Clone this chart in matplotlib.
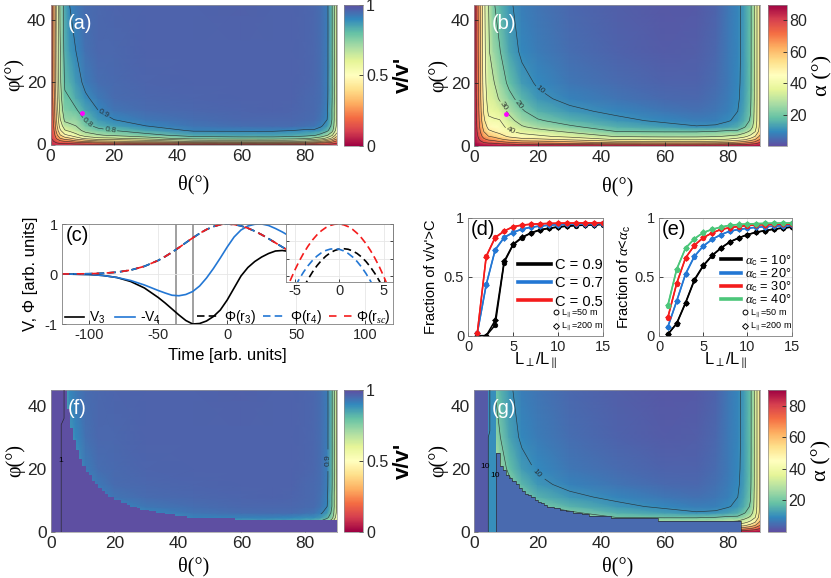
import numpy as np
import matplotlib.pyplot as plt
from matplotlib import colors, cm
from matplotlib.lines import Line2D

plt.rcParams['font.family'] = ['Liberation Sans', 'DejaVu Sans']
plt.rcParams['mathtext.fontset'] = 'custom'
plt.rcParams['mathtext.rm'] = 'Liberation Sans'
plt.rcParams['mathtext.it'] = 'Liberation Serif:italic'
plt.rcParams['mathtext.bf'] = 'Liberation Sans:bold'
plt.rcParams['axes.unicode_minus'] = False
SERIF = ['Liberation Serif', 'DejaVu Serif']

# ---------------- maps (a), (b), (f), (g) ----------------
theta_nodes = [0, 1, 2, 3, 4.5, 6, 8, 11, 15, 20, 30, 45, 60, 70, 76, 80, 83, 85, 87, 88.5, 90]
phi_nodes = [0, 0.5, 1, 2, 3, 4.5, 6, 8, 11, 15, 20, 30, 45]

# alpha (deg), one list per theta node, values along phi_nodes
alpha_cols = [
    [89, 89, 88, 88, 88, 88, 88, 88, 88, 88, 88, 88, 88],
    [89, 88, 86, 83, 81, 79, 78, 77, 76, 75, 74, 73.5, 73],
    [89, 86, 83, 77, 73, 69, 66, 64, 62, 60.5, 59.5, 58.5, 58],
    [89, 85, 80, 72, 66, 60, 56, 52, 49, 47, 45.5, 44, 43],
    [89, 84, 78, 68, 60, 52, 47, 42, 38, 35, 33, 31, 30],
    [89, 84, 77, 66, 58, 50, 45.5, 41, 37.5, 34, 31, 25.5, 21],
    [89, 82, 74, 62, 54, 47, 43.5, 40.5, 35.5, 29, 25, 20.5, 16.5],
    [89, 80, 71, 57, 48, 41, 37, 33, 28, 22.5, 18, 13.5, 11],
    [89, 78, 68, 53, 44, 37, 31, 26, 21, 16.5, 12.3, 8.8, 7.5],
    [89, 77, 67, 52, 42, 34, 27, 21, 15.5, 11.5, 9.2, 7.2, 6],
    [89, 75, 64, 48, 37, 28.5, 21.5, 16, 11.5, 8.3, 6.5, 5, 4],
    [89, 73, 58, 39, 29, 20, 15.3, 11.6, 8.5, 6.3, 4.8, 3.3, 2.5],
    [89, 72, 57, 38, 28, 19.5, 12.5, 8.8, 6.5, 4.5, 3.3, 2.2, 1.5],
    [89, 72, 57, 38, 28, 19.5, 10.5, 7.5, 5.5, 4.2, 3.3, 2.5, 2.0],
    [89, 73, 58, 39, 29, 20.5, 11, 8, 6.5, 5.5, 4.8, 4.0, 3.5],
    [89, 74, 60, 41, 31, 22, 13, 9.5, 8, 7.3, 7, 6.7, 6.5],
    [89, 76, 63, 45, 33, 22, 15, 11.5, 10, 9.2, 8.8, 8.5, 8.5],
    [89, 78, 66, 48, 37, 26, 19, 15, 13.5, 12.5, 12.2, 12, 12],
    [89, 80, 70, 54, 43, 32, 25, 21, 19.5, 18.5, 18.2, 18, 18],
    [89, 82, 74, 60, 50, 40, 36, 34, 33.5, 33, 33, 33, 33],
    [89, 85, 80, 70, 62, 55, 53, 52, 52, 52, 52, 52, 52],
]

# v/v', same grid
ratio_cols = [
    [0.08, 0.08, 0.09, 0.09, 0.09, 0.09, 0.09, 0.09, 0.09, 0.09, 0.09, 0.09, 0.09],
    [0.08, 0.09, 0.10, 0.13, 0.15, 0.18, 0.20, 0.22, 0.23, 0.25, 0.27, 0.275, 0.28],
    [0.08, 0.10, 0.13, 0.22, 0.28, 0.35, 0.39, 0.42, 0.45, 0.475, 0.49, 0.50, 0.51],
    [0.08, 0.11, 0.17, 0.30, 0.39, 0.48, 0.54, 0.59, 0.63, 0.66, 0.68, 0.69, 0.71],
    [0.08, 0.12, 0.20, 0.36, 0.48, 0.59, 0.66, 0.72, 0.76, 0.79, 0.81, 0.83, 0.84],
    [0.08, 0.12, 0.22, 0.39, 0.51, 0.62, 0.68, 0.73, 0.77, 0.80, 0.83, 0.87, 0.90],
    [0.08, 0.14, 0.27, 0.45, 0.57, 0.66, 0.70, 0.73, 0.79, 0.84, 0.87, 0.90, 0.925],
    [0.08, 0.17, 0.31, 0.53, 0.65, 0.73, 0.77, 0.81, 0.85, 0.89, 0.918, 0.938, 0.947],
    [0.08, 0.20, 0.36, 0.58, 0.69, 0.77, 0.83, 0.87, 0.90, 0.925, 0.943, 0.954, 0.957],
    [0.08, 0.22, 0.38, 0.59, 0.72, 0.80, 0.86, 0.90, 0.93, 0.946, 0.953, 0.957, 0.960],
    [0.08, 0.25, 0.42, 0.65, 0.77, 0.85, 0.90, 0.928, 0.946, 0.955, 0.959, 0.961, 0.963],
    [0.08, 0.28, 0.51, 0.75, 0.84, 0.91, 0.931, 0.945, 0.954, 0.959, 0.962, 0.963, 0.964],
    [0.08, 0.30, 0.53, 0.76, 0.85, 0.91, 0.942, 0.954, 0.959, 0.962, 0.963, 0.964, 0.965],
    [0.08, 0.30, 0.53, 0.76, 0.85, 0.91, 0.949, 0.957, 0.961, 0.962, 0.963, 0.964, 0.964],
    [0.08, 0.28, 0.51, 0.75, 0.84, 0.90, 0.947, 0.956, 0.959, 0.961, 0.962, 0.963, 0.963],
    [0.08, 0.27, 0.48, 0.73, 0.83, 0.89, 0.94, 0.952, 0.956, 0.957, 0.958, 0.958, 0.959],
    [0.08, 0.23, 0.44, 0.68, 0.81, 0.89, 0.932, 0.946, 0.950, 0.953, 0.954, 0.954, 0.954],
    [0.08, 0.20, 0.39, 0.65, 0.77, 0.87, 0.91, 0.932, 0.938, 0.942, 0.943, 0.944, 0.944],
    [0.08, 0.17, 0.33, 0.57, 0.71, 0.82, 0.87, 0.90, 0.91, 0.915, 0.917, 0.918, 0.918],
    [0.08, 0.14, 0.27, 0.48, 0.62, 0.74, 0.78, 0.80, 0.80, 0.81, 0.81, 0.81, 0.81],
    [0.08, 0.11, 0.17, 0.33, 0.45, 0.55, 0.58, 0.59, 0.59, 0.59, 0.59, 0.59, 0.59],
]

probe_theta = [10]
probe_phi = [10]

# (f): region where v/v' = 1 (staircase, left edges of columns + top phi)
f_stair_theta = [0, 5, 6, 7, 8, 9, 10, 11, 12, 13, 14, 15, 16, 17, 18, 20, 22, 24, 25, 27,
                 28, 31, 33, 36, 39, 43, 58, 87]
f_stair_phi = [45, 39, 33, 29, 26, 23, 21, 19, 18, 16, 15, 14, 13, 12, 11, 10, 9, 8.5, 8, 7.5,
               7, 6.5, 6, 5.5, 5, 4.3, 3.7, 3.7]
f_one_theta = [3.3, 3.3, 4.2, 4.2]
f_one_phi = [0, 34, 36, 45]

# (g): low-alpha regions
g_strip_theta = [0, 4.4]
g_strip_alpha = 2
g_column_theta = [4.4, 6.8]
g_column_alpha = 10
g_stair_theta = [6.8, 8, 9, 10, 11, 12, 13, 14, 15, 16, 17, 18, 19, 20, 21, 22, 23, 25, 27, 29,
                 31, 34, 36, 43, 58, 84]
g_stair_phi = [25, 21, 19.5, 18, 17, 16, 15, 14, 13, 12, 11.5, 11, 10, 9.5, 9, 8.5, 8, 7.5, 7, 6.5,
               6, 5.5, 5, 4.5, 3.5, 3.5]
g_stair_alpha = 4.5
g_left_theta = [4.4, 4.4, 4.9, 4.9]
g_left_phi = [0, 30, 32, 45]

# ---------------- (c) ----------------
t_main = [-120, -110, -100, -90, -80, -70, -60, -50, -45, -40, -35, -30, -25, -20, -15, -10,
          -5, 0, 5, 10, 15, 20, 25, 30, 35, 40, 45]
v3 = [0, -0.005, -0.01, -0.03, -0.07, -0.15, -0.28, -0.47, -0.58, -0.70, -0.82, -0.93, -1.0,
      -0.99, -0.94, -0.85, -0.72, -0.52, -0.28, -0.04, 0.13, 0.25, 0.34, 0.41, 0.46, 0.47, 0.45]
neg_v4 = [0, -0.005, -0.01, -0.03, -0.07, -0.13, -0.22, -0.33, -0.38, -0.425, -0.435, -0.41,
          -0.35, -0.24, -0.08, 0.11, 0.32, 0.54, 0.74, 0.88, 0.96, 0.995, 1.0, 0.97, 0.91, 0.84, 0.76]
phi_pot = [0.0006, 0.002, 0.0055, 0.015, 0.036, 0.078, 0.154, 0.272, 0.349, 0.435, 0.528, 0.626,
           0.722, 0.812, 0.89, 0.949, 0.987, 1.0, 0.99, 0.962, 0.917, 0.857, 0.786, 0.707, 0.623,
           0.539, 0.458]
event_times = [-37, -25]

t_inset = [-6, -5.5, -5, -4.5, -4, -3.5, -3, -2.5, -2, -1.5, -1, -0.5, 0, 0.5, 1, 1.5, 2, 2.5,
           3, 3.5, 4, 4.5, 5, 5.5, 6]
phi_rsc_in = [-0.174, 0.018, 0.193, 0.351, 0.492, 0.615, 0.722, 0.811, 0.883, 0.938, 0.975, 0.996,
              0.999, 0.986, 0.955, 0.907, 0.841, 0.759, 0.660, 0.543, 0.409, 0.259, 0.090, -0.095, -0.297]
phi_r4_in = [-0.439, -0.262, -0.102, 0.041, 0.167, 0.276, 0.368, 0.443, 0.501, 0.541, 0.565, 0.572,
             0.562, 0.534, 0.490, 0.429, 0.351, 0.255, 0.143, 0.014, -0.132, -0.296, -0.476, -0.67, -0.887]
phi_r3_in = [-0.844, -0.633, -0.439, -0.262, -0.102, 0.041, 0.167, 0.276, 0.368, 0.443, 0.501, 0.541,
             0.565, 0.572, 0.562, 0.534, 0.490, 0.429, 0.351, 0.255, 0.143, 0.014, -0.132, -0.296, -0.476]

# ---------------- (d), (e) ----------------
l_ratio = [1, 2, 3, 4, 5, 6, 7, 8, 9, 10, 11, 12, 13, 14, 15]
frac_v = {
    'C = 0.9': ([0.0, 0.0, 0.09, 0.62, 0.77, 0.83, 0.87, 0.895, 0.91, 0.92, 0.928, 0.933, 0.937, 0.94, 0.942],
                [0.0, 0.0, 0.13, 0.63, 0.775, 0.835, 0.872, 0.898, 0.912, 0.922, 0.93, 0.935, 0.938, 0.941, 0.943]),
    'C = 0.7': ([0.02, 0.435, 0.73, 0.834, 0.876, 0.905, 0.92, 0.93, 0.937, 0.942, 0.945, 0.947, 0.949, 0.95, 0.951],
                [0.02, 0.43, 0.725, 0.83, 0.874, 0.903, 0.919, 0.929, 0.936, 0.941, 0.944, 0.946, 0.948, 0.949, 0.95]),
    'C = 0.5': ([0.02, 0.675, 0.834, 0.887, 0.925, 0.938, 0.945, 0.949, 0.952, 0.954, 0.955, 0.956, 0.957, 0.957, 0.958],
                [0.02, 0.67, 0.83, 0.885, 0.923, 0.937, 0.944, 0.948, 0.951, 0.953, 0.954, 0.955, 0.956, 0.956, 0.957]),
}
frac_alpha = {
    10: ([0.01, 0.10, 0.274, 0.467, 0.59, 0.677, 0.741, 0.793, 0.827, 0.856, 0.876, 0.89, 0.903, 0.912, 0.92],
         [0.01, 0.105, 0.28, 0.475, 0.595, 0.68, 0.744, 0.795, 0.829, 0.857, 0.877, 0.891, 0.904, 0.913, 0.921]),
    20: ([0.07, 0.29, 0.519, 0.67, 0.758, 0.815, 0.856, 0.885, 0.9, 0.91, 0.918, 0.924, 0.928, 0.931, 0.934],
         [0.075, 0.295, 0.525, 0.673, 0.76, 0.817, 0.857, 0.886, 0.901, 0.911, 0.919, 0.925, 0.929, 0.932, 0.935]),
    30: ([0.15, 0.44, 0.657, 0.764, 0.83, 0.87, 0.9, 0.915, 0.925, 0.933, 0.938, 0.941, 0.943, 0.945, 0.946],
         [0.155, 0.445, 0.66, 0.766, 0.832, 0.871, 0.901, 0.916, 0.926, 0.934, 0.939, 0.942, 0.944, 0.946, 0.947]),
    40: ([0.25, 0.56, 0.74, 0.82, 0.873, 0.9, 0.92, 0.935, 0.942, 0.946, 0.949, 0.951, 0.953, 0.954, 0.955],
         [0.26, 0.565, 0.743, 0.822, 0.875, 0.901, 0.921, 0.936, 0.943, 0.947, 0.95, 0.952, 0.954, 0.955, 0.956]),
}

BLACK, BLUE, RED, GREEN = 'k', '#2377d4', '#f41c1c', '#4cc67a'

alpha_grid = np.array(alpha_cols).T
ratio_grid = np.array(ratio_cols).T
cmap_v = plt.get_cmap('Spectral')
cmap_a = plt.get_cmap('Spectral_r')
norm_v = colors.Normalize(0, 1)
norm_a = colors.Normalize(0, 90)

W, H = 831, 578
fig = plt.figure(figsize=(W / 100, H / 100), dpi=100)


def px_axes(x0, y0, x1, y1):
    return fig.add_axes([x0 / W, 1 - y1 / H, (x1 - x0) / W, (y1 - y0) / H])


def map_axes(ax, letter, xlab_y=-0.22):
    ax.set_xlim(0, 90)
    ax.set_ylim(0, 45)
    ax.set_xticks([0, 20, 40, 60, 80])
    ax.set_yticks([0, 20, 40])
    ax.tick_params(direction='in', length=3, width=0.6, labelsize=12.5, pad=3, colors='0.15')
    for s in ax.spines.values():
        s.set_linewidth(0.5)
        s.set_color('0.6')
    ax.set_xlabel('θ(°)', family=SERIF, fontsize=14.5)
    ax.set_ylabel('φ(°)', family=SERIF, fontsize=14.5)
    ax.xaxis.set_label_coords(0.5, xlab_y)
    ax.yaxis.set_label_coords(-0.09, 0.5)
    ax.text(5.5, 39, letter, color='w', fontsize=14.5, ha='left', va='center', zorder=5)


def add_cbar(cax, kind):
    if kind == 'v':
        cb = fig.colorbar(cm.ScalarMappable(norm=norm_v, cmap=cmap_v), cax=cax)
        cb.set_ticks([0, 0.5, 1])
        cb.set_ticklabels(['0', '0.5', '1'])
        cb.set_label("v/v'", fontsize=16, weight='bold', labelpad=3)
    else:
        cb = fig.colorbar(cm.ScalarMappable(norm=norm_a, cmap=cmap_a), cax=cax)
        cb.set_ticks([20, 40, 60, 80])
        cb.set_label('α (°)', family=SERIF, fontsize=16, labelpad=4)
    cb.outline.set_linewidth(0.5)
    cb.outline.set_edgecolor('0.55')
    cb.ax.tick_params(direction='in', length=3, width=0.6, labelsize=11.5, pad=2, colors='0.15')
    return cb


clw = dict(colors='0.15', linewidths=0.45, alpha=0.85)

# (a)
ax_a = px_axes(50.5, 4.7, 336.7, 144.5)
map_axes(ax_a, '(a)')
ax_a.pcolormesh(theta_nodes, phi_nodes, ratio_grid, shading='gouraud', cmap=cmap_v, norm=norm_v)
cs_a = ax_a.contour(theta_nodes, phi_nodes, ratio_grid, levels=[0.1, 0.2, 0.3, 0.4, 0.5, 0.6, 0.7, 0.8, 0.9], **clw)
ax_a.clabel(cs_a, manual=[(11, 6.2), (18.8, 4.6), (17, 10.5)],
            fontsize=6, fmt='%.1f', inline=True, inline_spacing=1)
ax_a.plot(probe_theta, probe_phi, 'o', color='magenta', ms=3.5, mec='none')
add_cbar(px_axes(344.3, 4.7, 363.3, 146), 'v')

# (b)
ax_b = px_axes(474.3, 4.7, 760, 145.7)
map_axes(ax_b, '(b)')
ax_b.pcolormesh(theta_nodes, phi_nodes, alpha_grid, shading='gouraud', cmap=cmap_a, norm=norm_a)
cs_b = ax_b.contour(theta_nodes, phi_nodes, alpha_grid, levels=[10, 20, 30, 40, 50, 60, 70, 80], **clw)
ax_b.clabel(cs_b, manual=[(20.7, 17.7), (13.3, 12.6), (8.6, 12.2), (11.8, 6.0)],
            fontsize=6, fmt='%d', inline=True, inline_spacing=1)
ax_b.plot(probe_theta, probe_phi, 'o', color='magenta', ms=3.5, mec='none')
add_cbar(px_axes(768.3, 4.7, 786.7, 146), 'a')

# (f)
ax_f = px_axes(50.7, 390, 336.7, 531.7)
map_axes(ax_f, '(f)', xlab_y=-0.175)
ax_f.pcolormesh(theta_nodes, phi_nodes, ratio_grid, shading='gouraud', cmap=cmap_v, norm=norm_v)
sub = slice(17, None)
cs_f = ax_f.contour(theta_nodes[sub], phi_nodes, ratio_grid[:, sub], levels=[0.5, 0.6, 0.7, 0.8, 0.9], **clw)
ax_f.clabel(cs_f, manual=[(87.3, 22.7)], fontsize=6, fmt='%.1f', inline=True)
ax_f.fill_between(f_stair_theta + [90], 0, f_stair_phi + [f_stair_phi[-1]], step='post',
                  color=cmap_v(norm_v(1.0)), lw=0, zorder=2.2)
ax_f.plot(f_one_theta, f_one_phi, color='0.15', lw=0.45, zorder=3)
ax_f.text(3.3, 22.7, '1', fontsize=6, ha='center', va='center', zorder=4)
add_cbar(px_axes(344.3, 390, 363.3, 531.7), 'v')

# (g)
ax_g = px_axes(474.3, 390, 760, 531.7)
map_axes(ax_g, '(g)', xlab_y=-0.175)
ax_g.pcolormesh(theta_nodes, phi_nodes, alpha_grid, shading='gouraud', cmap=cmap_a, norm=norm_a)
cs_g = ax_g.contour(theta_nodes, phi_nodes, alpha_grid, levels=[10, 20, 30, 40, 50, 60, 70, 80], **clw)
ax_g.clabel(cs_g, manual=[(19.5, 18.4)], fontsize=6, fmt='%d', inline=True)
ax_g.fill_between(g_strip_theta, 0, 45, color=cmap_a(norm_a(g_strip_alpha)), lw=0, zorder=2.2)
ax_g.fill_between(g_column_theta, 0, 45, color=cmap_a(norm_a(g_column_alpha)), lw=0, zorder=2.2)
ax_g.fill_between(g_stair_theta, 0, g_stair_phi, step='post',
                  color=cmap_a(norm_a(g_stair_alpha)), lw=0, zorder=2.2)
ax_g.plot([g_stair_theta[0]] + g_stair_theta, [0] + g_stair_phi[:-1] + [0],
          drawstyle='steps-post', color='0.15', lw=0.45, zorder=3)
ax_g.plot(g_left_theta, g_left_phi, color='0.15', lw=0.45, zorder=3)
ax_g.text(3.3, 20.6, '10', fontsize=6, ha='center', va='center', zorder=4)
ax_g.text(6.6, 17.7, '10', fontsize=6, ha='center', va='center', zorder=4)
add_cbar(px_axes(768.3, 390, 785.7, 531.7), 'a')

# (c)
ax_c = px_axes(61.7, 224, 392.7, 324)
ax_c.set_xlim(-120, 120)
ax_c.set_ylim(-1, 1)
ax_c.set_xticks([-100, -50, 0, 50, 100])
ax_c.set_yticks([-1, 0, 1])
ax_c.grid(True, color='0.9', lw=0.6)
ax_c.tick_params(direction='in', length=3, width=0.6, labelsize=10.5, pad=3, colors='0.15')
for s in ax_c.spines.values():
    s.set_linewidth(0.6)
    s.set_color('0.5')
for tv in event_times:
    ax_c.axvline(tv, color='0.6', lw=1.3, zorder=1.5)
l_v3, = ax_c.plot(t_main, v3, color=BLACK, lw=1.2)
l_v4, = ax_c.plot(t_main, neg_v4, color=BLUE, lw=1.2)
l_p3, = ax_c.plot(t_main, phi_pot, color=BLACK, lw=1.2, dashes=(4.5, 2.5))
l_p4, = ax_c.plot(t_main, phi_pot, color=BLUE, lw=1.2, dashes=(4.5, 2.5))
l_ps, = ax_c.plot(t_main, phi_pot, color=RED, lw=1.2, dashes=(4.5, 4.5))
ax_c.set_xlabel('Time [arb. units]', fontsize=12)
ax_c.set_ylabel('V, Φ [arb. units]', fontsize=12)
ax_c.xaxis.set_label_coords(0.5, -0.24)
ax_c.yaxis.set_label_coords(-0.072, 0.5)
ax_c.text(0.012, 0.89, '(c)', transform=ax_c.transAxes, fontsize=14.5, va='center')
leg1 = ax_c.legend([l_v3, l_v4], ['V$_3$', '-V$_4$'], loc='lower left', bbox_to_anchor=(0.01, -0.02),
                   ncol=2, frameon=False, fontsize=10, handlelength=1.4, handletextpad=0.35,
                   columnspacing=0.7, borderpad=0, borderaxespad=0)
ax_c.add_artist(leg1)
ax_c.legend([l_p3, l_p4, l_ps], ['Φ(r$_3$)', 'Φ(r$_4$)', 'Φ(r$_{sc}$)'], loc='lower right',
            bbox_to_anchor=(0.995, -0.02), ncol=3, frameon=False, fontsize=10, handlelength=1.6,
            handletextpad=0.35, columnspacing=0.5, borderpad=0, borderaxespad=0)

ax_in = px_axes(285.7, 224, 392.7, 281.7)
ax_in.set_facecolor('white')
ax_in.plot(t_inset, phi_r3_in, color=BLACK, lw=1.2, dashes=(4.5, 2.5))
ax_in.plot(t_inset, phi_r4_in, color=BLUE, lw=1.2, dashes=(4.5, 2.5))
ax_in.plot(t_inset, phi_rsc_in, color=RED, lw=1.2, dashes=(4.5, 2.5))
ax_in.set_xlim(-6, 6)
ax_in.set_ylim(0, 1)
ax_in.set_xticks([-5, 0, 5])
ax_in.set_yticks([0.1, 0.4, 0.7, 1.0])
ax_in.set_yticklabels([])
ax_in.grid(True, color='0.9', lw=0.6)
ax_in.tick_params(direction='in', length=2.5, width=0.6, labelsize=10.5, pad=2, colors='0.15',
                  right=True)
for s in ax_in.spines.values():
    s.set_linewidth(0.6)
    s.set_color('0.5')


def frac_axes(ax, letter, ylabel, ylabel_x):
    ax.set_xlim(0, 15)
    ax.set_ylim(0, 1)
    ax.set_xticks([0, 5, 10, 15])
    ax.set_yticks([0, 0.5, 1])
    ax.set_yticklabels(['0', '0.5', '1'])
    ax.grid(True, color='0.9', lw=0.6)
    ax.tick_params(direction='in', length=3, width=0.6, labelsize=10.5, pad=3, colors='0.15')
    for s in ax.spines.values():
        s.set_linewidth(0.6)
        s.set_color('0.5')
    ax.set_xlabel(r'L$_\perp$/L$_\parallel$', fontsize=12)
    ax.set_ylabel(ylabel, fontsize=10.5)
    ax.xaxis.set_label_coords(0.5, -0.13)
    ax.yaxis.set_label_coords(ylabel_x, 0.5)
    ax.text(0.02, 0.9, letter, transform=ax.transAxes, fontsize=14.5, va='center')


def marker_legend(ax, anchor):
    hs = [Line2D([], [], ls='none', marker='o', mfc='none', mec='k', ms=3.5, mew=0.7),
          Line2D([], [], ls='none', marker='D', mfc='none', mec='k', ms=3, mew=0.7)]
    leg = ax.legend(hs, [r'L$_\parallel$=50 m', r'L$_\parallel$=200 m'], loc='lower right',
                    bbox_to_anchor=anchor, frameon=False, fontsize=6.5, handlelength=0.7,
                    handletextpad=0.2, labelspacing=0.15, borderpad=0, borderaxespad=0)
    ax.add_artist(leg)


# (d)
ax_d = px_axes(468.3, 217.7, 602.7, 335.7)
frac_axes(ax_d, '(d)', "Fraction of v/v'>C", -0.225)
handles_d = []
for (lab, (circ, diam)), col in zip(frac_v.items(), [BLACK, BLUE, RED]):
    ax_d.plot(l_ratio, diam, color=col, lw=1.1, marker='D', ms=3, mfc=col, mec=col, mew=0.5)
    ax_d.plot(l_ratio, circ, color=col, lw=1.1, marker='o', ms=3.3, mfc=col, mec=col, mew=0.5)
    handles_d.append(Line2D([], [], color=col, lw=2.6))
marker_legend(ax_d, (1.0, 0.02))
ax_d.legend(handles_d, list(frac_v.keys()), loc='center right', bbox_to_anchor=(1.0, 0.445),
            frameon=False, fontsize=10.5, handlelength=2.2, handletextpad=0.3, labelspacing=0.3,
            borderpad=0, borderaxespad=0)

# (e)
ax_e = px_axes(659, 217.7, 791.7, 335.5)
frac_axes(ax_e, '(e)', r'Fraction of $\alpha$<$\alpha_\mathrm{c}$', -0.196)
handles_e = []
labels_e = []
for (ac, (circ, diam)), col in zip(frac_alpha.items(), [BLACK, BLUE, RED, GREEN]):
    ax_e.plot(l_ratio, diam, color=col, lw=1.1, marker='D', ms=3, mfc=col, mec=col, mew=0.5)
    ax_e.plot(l_ratio, circ, color=col, lw=1.1, marker='o', ms=3.3, mfc=col, mec=col, mew=0.5)
    handles_e.append(Line2D([], [], color=col, lw=2.6))
    labels_e.append(r'$\alpha_\mathrm{c}$ = %d°' % ac)
marker_legend(ax_e, (1.0, 0.02))
ax_e.legend(handles_e, labels_e, loc='center right', bbox_to_anchor=(1.0, 0.47),
            frameon=False, fontsize=9.2, handlelength=1.6, handletextpad=0.3, labelspacing=-0.12,
            borderpad=0, borderaxespad=0)

fig.savefig('out.png', dpi=100)
